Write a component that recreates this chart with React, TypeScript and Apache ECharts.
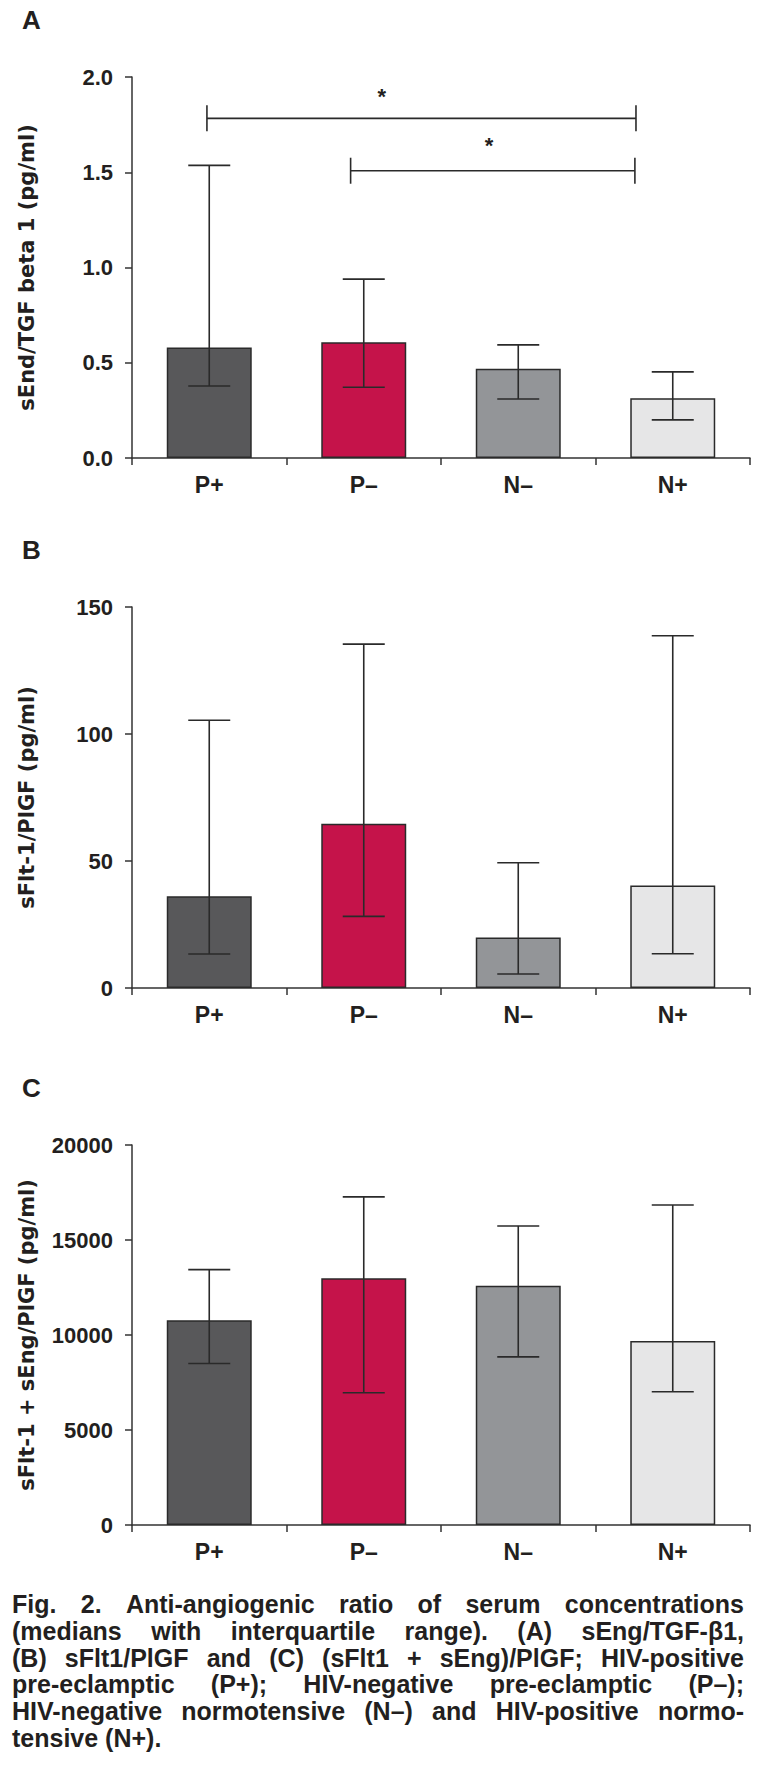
import React, { useEffect, useRef } from "react";
import * as echarts from "echarts";

const categories = ["P+", "P\u2013", "N\u2013", "N+"];
const barColors = ["#58585a", "#c5134a", "#939598", "#e6e6e7"];

// Panel A: sEng/TGF-beta1 (medians, lower quartile, upper quartile)
const aMedian = [0.58, 0.608, 0.469, 0.313];
const aLow = [0.378, 0.371, 0.31, 0.2];
const aHigh = [1.536, 0.939, 0.594, 0.452];

// Panel B: sFlt-1/PlGF
const bMedian = [36.1, 64.7, 19.9, 40.4];
const bLow = [13.4, 28.2, 5.5, 13.5];
const bHigh = [105.4, 135.4, 49.3, 138.7];

// Panel C: (sFlt-1 + sEng)/PlGF
const cMedian = [10780, 12990, 12590, 9690];
const cLow = [8500, 6960, 8850, 7010];
const cHigh = [13440, 17270, 15740, 16840];

// Significance brackets in panel A (x in category units 0..4, y in data units)
const bracketFrom = [0.485, 1.415];
const bracketTo = [3.262, 3.255];
const bracketY = [1.783, 1.508];
const starX = [1.616, 2.311];
const starY = [1.897, 1.643];

const panelLetters = ["A", "B", "C"];
const yAxisNames = [
  "sEnd/TGF beta 1 (pg/ml)",
  "sFlt-1/PlGF (pg/ml)",
  "sFlt-1 + sEng/PlGF (pg/ml)",
];
const yMax = [2, 150, 20000];
const yInterval = [0.5, 50, 5000];
const yDecimals = [1, 0, 0];

const captionLines = [
  "Fig. 2. Anti-angiogenic ratio of serum concentrations",
  "(medians with interquartile range). (A) sEng/TGF-\u03b21,",
  "(B) sFlt1/PlGF and (C) (sFlt1 + sEng)/PlGF; HIV-positive",
  "pre-eclamptic (P+); HIV-negative pre-eclamptic (P\u2013);",
  "HIV-negative normotensive (N\u2013) and HIV-positive normo-",
  "tensive (N+).",
];

const FONT = "'Liberation Sans', Arial, Helvetica, sans-serif";
const NAME_FONT = "'DejaVu Sans', Verdana, sans-serif";
const INK = "#231f20";

const W = 757;
const H = 1772;
const gridLeft = 132;
const gridWidth = 618;
const gridTops = [77, 607, 1145];
const gridHeights = [381, 381, 380];

export default function App() {
  const ref = useRef<HTMLDivElement>(null);

  useEffect(() => {
    document.body.style.margin = "0";
    const el = ref.current;
    if (!el) return;
    const chart = echarts.init(el, null, { renderer: "svg", width: W, height: H });

    const medians = [aMedian, bMedian, cMedian];
    const lows = [aLow, bLow, cLow];
    const highs = [aHigh, bHigh, cHigh];

    const grids: any[] = [];
    const xAxes: any[] = [];
    const yAxes: any[] = [];
    const series: any[] = [];

    for (let p = 0; p < 3; p++) {
      grids.push({
        left: gridLeft,
        top: gridTops[p],
        width: gridWidth,
        height: gridHeights[p],
        containLabel: false,
      });
      xAxes.push({
        type: "category",
        gridIndex: p,
        data: categories,
        boundaryGap: true,
        axisLine: { lineStyle: { color: "#333", width: 1.5 } },
        axisTick: { show: true, length: 7, interval: 0, lineStyle: { color: "#333", width: 1.5 } },
        axisLabel: {
          interval: 0,
          margin: 15,
          color: INK,
          fontFamily: FONT,
          fontWeight: "bold",
          fontSize: 23,
        },
      });
      yAxes.push({
        type: "value",
        gridIndex: p,
        min: 0,
        max: yMax[p],
        interval: yInterval[p],
        splitLine: { show: false },
        axisLine: { show: true, lineStyle: { color: "#333", width: 1.5 } },
        axisTick: { show: true, length: 7, lineStyle: { color: "#333", width: 1.5 } },
        axisLabel: {
          margin: 19,
          color: INK,
          fontFamily: FONT,
          fontWeight: "bold",
          fontSize: 22,
          formatter: (v: number) => v.toFixed(yDecimals[p]),
        },
        name: yAxisNames[p],
        nameLocation: "middle",
        nameRotate: 90,
        nameGap: 95,
        nameTextStyle: {
          color: INK,
          fontFamily: NAME_FONT,
          fontWeight: "bold",
          fontSize: 21,
        },
      });

      series.push({
        type: "bar",
        xAxisIndex: p,
        yAxisIndex: p,
        barWidth: "55%",
        data: medians[p].map((v, i) => ({
          value: v,
          itemStyle: { color: barColors[i] },
        })),
        itemStyle: { borderColor: "#2a2a2a", borderWidth: 1.5 },
        z: 2,
      });

      series.push({
        type: "custom",
        xAxisIndex: p,
        yAxisIndex: p,
        z: 5,
        data: categories.map((c, i) => [i, lows[p][i], highs[p][i]]),
        encode: { x: 0, y: [1, 2] },
        renderItem: (params: any, api: any) => {
          const i = api.value(0);
          const lo = api.coord([i, api.value(1)]);
          const hi = api.coord([i, api.value(2)]);
          const hw = 21;
          const style = { stroke: "#2a2a2a", lineWidth: 1.6 };
          return {
            type: "group",
            children: [
              { type: "line", shape: { x1: lo[0], y1: lo[1], x2: hi[0], y2: hi[1] }, style },
              { type: "line", shape: { x1: lo[0] - hw, y1: lo[1], x2: lo[0] + hw, y2: lo[1] }, style },
              { type: "line", shape: { x1: hi[0] - hw, y1: hi[1], x2: hi[0] + hw, y2: hi[1] }, style },
            ],
          };
        },
      });
    }

    // hidden value x-axis for panel A brackets
    xAxes.push({
      type: "value",
      gridIndex: 0,
      min: 0,
      max: 4,
      show: false,
    });

    series.push({
      type: "custom",
      xAxisIndex: 3,
      yAxisIndex: 0,
      z: 6,
      data: bracketFrom.map((f, i) => [f, bracketTo[i], bracketY[i], starX[i], starY[i]]),
      encode: { x: [0, 1, 3], y: [2, 4] },
      renderItem: (params: any, api: any) => {
        const a = api.coord([api.value(0), api.value(2)]);
        const b = api.coord([api.value(1), api.value(2)]);
        const s = api.coord([api.value(3), api.value(4)]);
        const t = 13;
        const style = { stroke: "#2a2a2a", lineWidth: 1.6 };
        return {
          type: "group",
          children: [
            { type: "line", shape: { x1: a[0], y1: a[1], x2: b[0], y2: b[1] }, style },
            { type: "line", shape: { x1: a[0], y1: a[1] - t, x2: a[0], y2: a[1] + t }, style },
            { type: "line", shape: { x1: b[0], y1: b[1] - t, x2: b[0], y2: b[1] + t }, style },
            {
              type: "text",
              x: s[0],
              y: s[1],
              style: {
                text: "*",
                fill: INK,
                font: `bold 22px ${FONT}`,
                align: "center",
                verticalAlign: "middle",
              },
            },
          ],
        };
      },
    });

    const graphics: any[] = [];
    panelLetters.forEach((L, p) => {
      graphics.push({
        type: "text",
        left: 22,
        top: gridTops[p] - 57 - 13,
        style: {
          text: L,
          fill: INK,
          font: `bold 26px ${FONT}`,
        },
      });
    });

    // justified caption
    const capFont = `bold 25px ${FONT}`;
    const canvas = document.createElement("canvas");
    const ctx = canvas.getContext("2d")!;
    ctx.font = capFont;
    const capLeft = 12;
    const capRight = 744;
    const capTop = 1604;
    const capStep = 26.8;
    captionLines.forEach((line, li) => {
      const words = line.split(" ");
      const widths = words.map((w) => ctx.measureText(w).width);
      const total = widths.reduce((s, v) => s + v, 0);
      const isLast = li === captionLines.length - 1;
      const gap = isLast || words.length < 2
        ? ctx.measureText(" ").width
        : (capRight - capLeft - total) / (words.length - 1);
      let x = capLeft;
      words.forEach((w, wi) => {
        graphics.push({
          type: "text",
          x,
          y: capTop + li * capStep,
          style: {
            text: w,
            fill: INK,
            font: capFont,
            verticalAlign: "middle",
            align: "left",
          },
        });
        x += widths[wi] + gap;
      });
    });

    chart.setOption({
      animation: false,
      backgroundColor: "#ffffff",
      grid: grids,
      xAxis: xAxes,
      yAxis: yAxes,
      series,
      graphic: graphics,
    });

    return () => {
      chart.dispose();
    };
  }, []);

  return <div ref={ref} style={{ width: W, height: H }} />;
}
